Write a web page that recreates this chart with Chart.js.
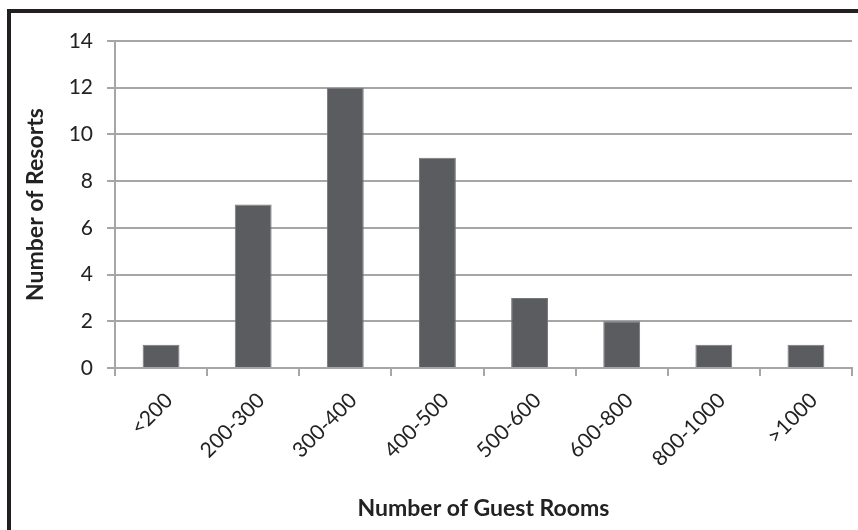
<!DOCTYPE html>
<html>
<head>
<meta charset="utf-8">
<script src="https://cdn.jsdelivr.net/npm/chart.js@4/dist/chart.umd.min.js"></script>
<style>
  html, body { margin: 0; padding: 0; background: #fff; }
  #wrap { position: relative; width: 858px; height: 530px; overflow: hidden; }
  #frame { position: absolute; left: 7px; top: 9px; width: 900px; height: 600px;
           border-top: 4px solid #231f20; border-left: 4px solid #231f20; pointer-events: none; }
</style>
</head>
<body>
<div id="wrap">
  <canvas id="chart" width="858" height="530"></canvas>
  <div id="frame"></div>
</div>
<script>
// data
var kategoriar = ['<200', '200-300', '300-400', '400-500', '500-600', '600-800', '800-1000', '>1000'];
var antalResorts = [1, 7, 12, 9, 3, 2, 1, 1];
var yTicks = [0, 2, 4, 6, 8, 10, 12, 14];

var gridFarge = '#a6a6a6';
var tekstFont = 'Lato, "Open Sans", sans-serif';

function gel(id) {
    return document.getElementById(id);
}

var ctx = gel('chart').getContext('2d');
var diagram = new Chart(ctx, {
    type: 'bar',
    data: {
        labels: kategoriar,
        datasets: [{
            data: antalResorts,
            backgroundColor: '#5b5c60',
            borderColor: '#77787c',
            borderWidth: 1,
            barPercentage: 0.4,
            categoryPercentage: 1
        }]
    },
    options: {
        responsive: false,
        animation: false,
        layout: { padding: { left: 10, right: 6, top: 41, bottom: 8 } },
        plugins: {
            legend: { display: false },
            tooltip: { enabled: false }
        },
        scales: {
            x: {
                grid: { offset: true, drawOnChartArea: false, drawTicks: true, tickLength: 8, color: gridFarge, lineWidth: 2 },
                border: { color: gridFarge, width: 2 },
                ticks: { color: '#222', font: { family: tekstFont, size: 21 }, maxRotation: 45, minRotation: 45, padding: 12, labelOffset: 8 },
                title: { display: true, text: 'Number of Guest Rooms', color: '#222', font: { family: tekstFont, size: 23, weight: 'bold' }, padding: { top: 10, bottom: 0 } },
                afterFit: function (s) { s.height = 154; }
            },
            y: {
                min: 0,
                max: 14,
                afterBuildTicks: function (s) { s.ticks = yTicks.map(function (v) { return { value: v }; }); },
                grid: { color: gridFarge, lineWidth: 2, drawTicks: true, tickLength: 8 },
                border: { color: gridFarge, width: 2 },
                ticks: { color: '#222', font: { family: tekstFont, size: 21 }, padding: 14 },
                title: { display: true, text: 'Number of Resorts', color: '#222', font: { family: tekstFont, size: 23, weight: 'bold' }, padding: { top: 12, bottom: 0 } },
                afterFit: function (s) { s.width = 105; }
            }
        }
    }
});
</script>
</body>
</html>
